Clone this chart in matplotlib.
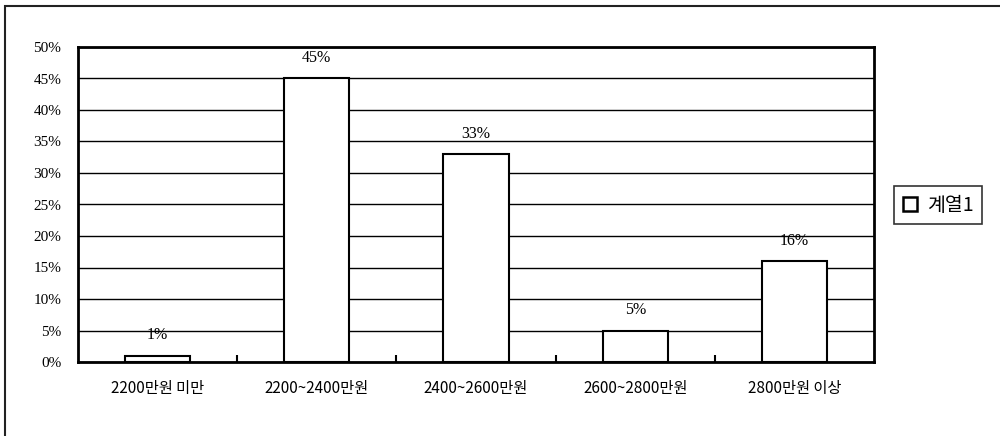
import matplotlib
matplotlib.use("Agg")
import matplotlib.pyplot as plt
from matplotlib.patches import Rectangle, Patch

categories = ["2200만원 미만", "2200~2400만원", "2400~2600만원", "2600~2800만원", "2800만원 이상"]
values = [1, 45, 33, 5, 16]
yticks = [0, 5, 10, 15, 20, 25, 30, 35, 40, 45, 50]
series_name = "계열1"

plt.rcParams['font.family'] = ['Liberation Serif', 'Noto Sans CJK KR']

fig = plt.figure(figsize=(10, 4.36), dpi=100)
W, H = 1000, 436
# outer frame (partly cut off at right/bottom)
fig.patches.append(Rectangle((5 / W, -0.1), 1.2, (H - 6) / H + 0.1, transform=fig.transFigure,
                             fill=False, edgecolor='#222222', linewidth=1.5))

ax = fig.add_axes([78 / W, (H - 362) / H, 796 / W, 315 / H])
x = list(range(len(categories)))
ax.bar(x, values, width=0.41, color='white', edgecolor='black', linewidth=1.5, zorder=3)

ax.set_xlim(-0.5, len(categories) - 0.5)
ax.set_ylim(0, 50)
ax.set_yticks(yticks)
ax.set_yticklabels([f"{v}%" for v in yticks], fontsize=11, family=['Liberation Serif'])
ax.yaxis.grid(True, color='black', linewidth=1.0)
ax.set_axisbelow(True)
ax.tick_params(axis='y', length=0, pad=12)

ax.set_xticks(x)
ax.set_xticklabels(categories, fontsize=11, family=['Noto Sans CJK KR'])
ax.set_xticks([i + 0.5 for i in range(len(categories) - 1)], minor=True)
ax.tick_params(axis='x', which='major', length=0, pad=13)
ax.tick_params(axis='x', which='minor', direction='in', length=5, width=1.5)

for s in ax.spines.values():
    s.set_linewidth(2)
    s.set_color('black')

for xi, v in zip(x, values):
    ax.annotate(f"{v}%", (xi, v), xytext=(0, 9), textcoords='offset points',
                ha='center', va='bottom', fontsize=11.5, family=['Liberation Serif'])

handle = Patch(facecolor='white', edgecolor='black', linewidth=1.8)
leg = fig.legend([handle], [series_name], loc='center left',
                 bbox_to_anchor=(894 / W, (H - 205) / H), frameon=True, fancybox=False,
                 handlelength=0.75, handleheight=0.75, handletextpad=0.5,
                 borderpad=0.45, borderaxespad=0,
                 prop={'family': ['Noto Sans CJK KR'], 'size': 14})
leg.get_frame().set_edgecolor('black')
leg.get_frame().set_linewidth(1.2)

fig.savefig("out.png", dpi=100)
